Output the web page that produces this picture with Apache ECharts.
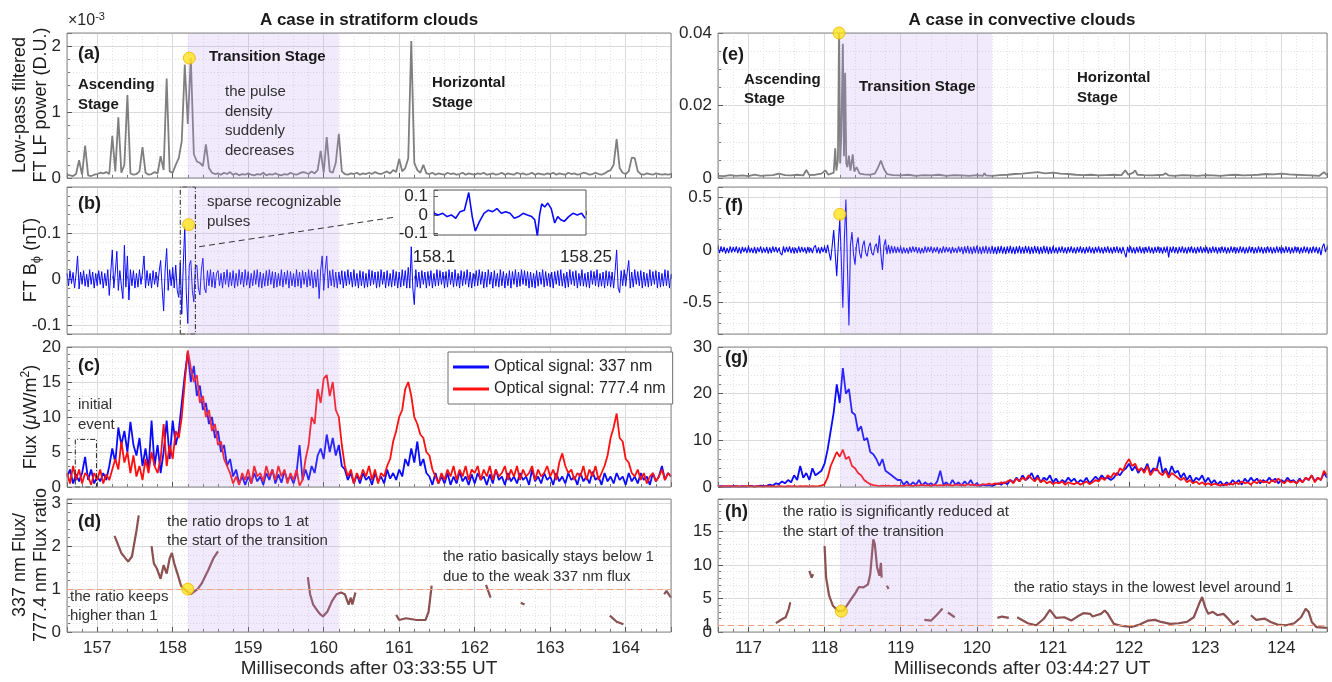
<!DOCTYPE html>
<html>
<head>
<meta charset="utf-8">
<title>Stratiform vs convective case</title>
<script src="https://cdn.jsdelivr.net/npm/echarts@6/dist/echarts.min.js"></script>
<style>
  html, body { margin: 0; padding: 0; background: #fff; }
  #chart { width: 1332px; height: 682px; }
</style>
</head>
<body>
<div id="chart"></div>
<script>
// uniformly sampled traces start here (ms); flux/power step DT, B_phi step DT_B
const T0_L = 156.6, T0_R = 116.6, DT = 0.04, DT_B = 0.02;
const TRANS_L = [158.2, 160.2], TRANS_R = [118.2, 120.2];
const NAME_337 = 'Optical signal: 337 nm', NAME_777 = 'Optical signal: 777.4 nm';

// (a) low-pass filtered FT LF power, in 1e-3 D.U.
const lfPowerL = [
  0.05,0.04,0.03,0.06,0.27,0.05,0.49,0.04,0.03,0.05,0.06,0.08,0.07,0.09,0.06,0.64,0.1,0.92,0.08,0.2,
  1.26,0.07,0.05,0.06,0.1,0.47,0.08,0.05,0.06,0.09,0.07,0.33,0.12,1.51,0.1,0.08,0.2,0.3,0.56,1.72,
  0.82,1.82,0.36,0.25,0.23,0.18,0.51,0.15,0.08,0.06,0.07,0.05,0.08,0.06,0.09,0.05,0.07,0.04,0.06,0.05,
  0.07,0.05,0.04,0.06,0.05,0.08,0.04,0.06,0.05,0.07,0.05,0.04,0.06,0.05,0.08,0.06,0.05,0.07,0.09,0.08,
  0.06,0.1,0.07,0.12,0.41,0.08,0.62,0.1,0.08,0.23,0.67,0.1,0.06,0.05,0.07,0.06,0.08,0.05,0.07,0.06,
  0.08,0.06,0.09,0.07,0.06,0.08,0.1,0.07,0.12,0.09,0.29,0.1,0.15,0.3,2.08,0.23,0.12,0.08,0.2,0.07,
  0.06,0.08,0.05,0.07,0.06,0.05,0.08,0.06,0.07,0.05,0.06,0.08,0.05,0.07,0.06,0.05,0.07,0.06,0.08,0.05,
  0.06,0.07,0.05,0.06,0.08,0.05,0.07,0.06,0.05,0.08,0.06,0.07,0.05,0.06,0.08,0.05,0.07,0.06,0.05,0.07,
  0.06,0.08,0.05,0.07,0.06,0.05,0.08,0.06,0.07,0.05,0.06,0.08,0.07,0.05,0.06,0.08,0.06,0.05,0.07,0.1,
  0.12,0.2,0.59,0.15,0.08,0.06,0.1,0.31,0.3,0.1,0.06,0.05,0.07,0.06,0.05,0.07,0.06,0.05,0.06,0.05,0.06
];
// (b) FT B_phi, nT (step DT_B)
const bPhiL = [
  0.012,-0.015,0.018,-0.01,0.014,-0.02,0.01,0.05,-0.022,0.015,-0.012,0.018,-0.016,0.01,-0.018,0.02,-0.012,0.015,-0.02,0.012,
  -0.015,0.018,-0.012,0.016,-0.02,0.012,-0.015,0.02,-0.036,0.015,0.063,-0.02,0.015,0.06,-0.025,0.018,-0.015,-0.043,0.073,-0.018,
  0.05,-0.046,0.02,-0.015,0.018,-0.02,0.012,-0.018,0.02,-0.012,0.015,0.05,-0.02,0.018,-0.015,0.012,-0.02,0.018,-0.012,0.015,
  -0.018,0.015,0.04,-0.02,-0.07,0.02,0.066,-0.025,0.02,-0.015,0.025,-0.02,0.03,-0.025,-0.04,0.035,-0.077,0.03,0.114,-0.03,
  -0.097,0.03,0.04,-0.025,-0.05,0.025,0.03,-0.02,-0.035,0.02,0.045,-0.02,-0.03,0.018,-0.015,0.02,-0.018,0.015,-0.02,0.012,
  0.018,-0.015,0.012,-0.02,0.015,-0.012,0.02,-0.018,0.014,-0.015,0.018,-0.02,0.012,-0.016,0.02,-0.012,0.015,-0.018,0.02,-0.014,
  0.016,-0.02,0.012,-0.015,0.018,-0.012,0.02,-0.018,0.015,-0.02,0.012,-0.016,0.018,-0.015,0.02,-0.012,0.016,-0.02,0.015,-0.018,
  0.012,-0.015,0.02,-0.018,0.015,-0.012,0.018,-0.02,0.016,-0.015,0.012,-0.018,0.02,-0.016,0.015,-0.02,0.018,-0.012,0.015,-0.018,
  0.02,-0.015,0.018,-0.02,0.015,-0.018,0.02,-0.043,0.02,0.05,-0.025,0.02,0.05,-0.02,0.018,-0.015,0.02,-0.018,0.015,-0.02,
  0.015,-0.012,0.018,-0.02,0.016,-0.015,0.02,-0.012,0.015,-0.018,0.02,-0.016,0.012,-0.02,0.018,-0.015,0.016,-0.02,0.012,-0.018,
  0.02,-0.015,0.018,-0.012,0.015,-0.02,0.016,-0.018,0.02,-0.012,0.015,-0.02,0.018,-0.016,0.012,-0.018,0.02,-0.015,0.016,-0.02,
  0.015,-0.018,0.02,-0.015,0.018,-0.02,0.025,-0.02,0.07,-0.02,-0.056,0.02,-0.018,0.015,-0.02,0.018,-0.012,0.015,-0.02,0.016,
  -0.015,0.018,-0.02,0.012,-0.016,0.02,-0.015,0.018,-0.012,0.015,-0.02,0.016,-0.018,0.02,-0.012,0.015,-0.018,0.02,-0.016,0.012,
  -0.02,0.018,-0.015,0.016,-0.012,0.02,-0.018,0.015,-0.02,0.012,-0.016,0.018,-0.015,0.02,-0.012,0.016,-0.02,0.015,-0.018,0.02,
  -0.012,0.015,-0.02,0.018,-0.016,0.012,-0.018,0.02,-0.015,0.016,-0.02,0.012,-0.015,0.018,-0.02,0.016,-0.012,0.02,-0.018,0.015,
  -0.016,0.02,-0.012,0.018,-0.015,0.016,-0.02,0.015,-0.018,0.012,-0.02,0.018,-0.016,0.015,-0.012,0.02,-0.018,0.016,-0.015,0.012,
  -0.018,0.015,-0.02,0.016,-0.012,0.018,-0.015,0.02,-0.016,0.012,-0.02,0.015,-0.018,0.02,-0.012,0.016,-0.015,0.018,-0.02,0.012,
  -0.015,0.02,-0.016,0.012,-0.018,0.015,-0.02,0.018,-0.012,0.016,-0.015,0.02,-0.018,0.012,-0.016,0.015,-0.02,0.018,-0.015,0.016,
  -0.018,0.015,-0.02,0.018,0.063,-0.02,-0.03,0.018,-0.015,0.02,-0.016,0.015,0.04,-0.02,0.015,-0.018,0.02,-0.012,0.016,-0.015,
  0.018,-0.02,0.015,-0.016,0.012,-0.018,0.02,-0.015,0.016,-0.012,0.018,-0.02,0.015,-0.018,0.012,-0.016,0.02,-0.015,0.018,-0.02,
  0.01
];
// (b) inset, [ms, nT]
const insetB = [
  [158.1,0.009],[158.1043,0],[158.1086,0.009],[158.1129,-0.009],[158.1171,0],[158.1214,-0.018],[158.1257,0.018],
  [158.13,0.026],[158.1343,0.123],[158.1377,-0.009],[158.1407,-0.088],[158.145,-0.035],[158.1493,0.009],[158.1536,0.026],
  [158.1579,0.018],[158.1621,0.035],[158.1664,0.009],[158.1707,0.018],[158.175,0.009],[158.1793,-0.018],[158.1836,-0.009],
  [158.1879,0.009],[158.1921,0],[158.1964,-0.009],[158.1994,-0.026],[158.202,-0.114],[158.2042,0],[158.2063,0.061],
  [158.2093,0.044],[158.2123,0.065],[158.2157,0.035],[158.2191,-0.044],[158.2221,-0.009],[158.2251,-0.026],[158.2286,-0.035],
  [158.2329,-0.009],[158.2371,0.009],[158.2414,0],[158.2457,0.009],[158.2491,-0.018]
];
// (c) optical flux, uW/m^2
const flux337L = [
  1.5,2.5,0.5,1.8,0.8,2,4.3,1,2.5,0.5,1.5,0.8,2,1,3,5.5,3.5,8.5,6,8,
  5,9.3,6,4.5,7,3,5.5,2.5,9.5,3,6,2,5,9.5,4,9.5,6,8,12,16,
  19.3,15,17.3,13,14.5,11,12,9,10,7,8,5,6,3,4,1.5,2.5,0.5,1.5,0.3,
  1.5,0.5,2,0.8,1.5,0.3,2,1,2.5,0.5,1.8,0.6,2.2,1,1.5,0.5,2,6,1,2.5,
  1,3,2,4.5,5.5,4,7.5,5,7,4.5,6,3,2.5,1,2,0.5,1.8,0.5,2,1,
  1.5,0.3,2,0.8,1.5,0.5,2.5,1.2,2,1,2.5,1.5,4,3,5.5,3.5,6.5,3,4,2,
  1.5,0.3,2,0.5,1.5,0.5,2,0.3,1.5,0.5,2.2,0.8,1.5,0.3,1.8,0.5,2,1,1.5,0.3,
  1.8,0.5,2.5,1,1.5,0.3,2,0.8,1.5,0.5,2,1,1.5,0.3,2.5,0.8,1.5,0.5,2,1,
  1.5,0.3,2,0.8,1.5,0.5,2,1,1.5,0.3,2,0.8,1.5,0.5,2.2,1,1.5,0.3,2,0.8,
  1.5,0.5,2,1,1.5,0.3,2,0.8,1.5,0.5,2,1,1.5,0.3,2,0.8,1.5,3,1,2,1.5
];
const flux777L = [
  2,0.5,3,1,2.5,0.5,2,1.5,0.3,2,1,2.5,0.5,1.8,1,2.5,4,2.5,6.5,3.5,
  5,2,4.5,1.5,3,1,4,2,5,3,2,4,9,3,6,4,8,7,10,15,
  19.5,17,15,16,12,13,10,11,8,9,6,6.5,4,3,2,0.5,1.5,0.3,2,1,
  2.5,0.5,3,1.5,2,0.8,3,1.5,2.5,1,3,1.5,2.5,0.5,2,1,2.5,0.2,1,4,
  6,10,9,14,12,15.5,16,13,15,11,10,6,3,1.5,2.5,0.5,2,1,2.5,1.5,
  3,1,2.5,0.5,2,1.5,3,4,6.5,8,10,11,14,15,13,10,9,7.5,7,5,
  4.5,2.5,1.5,0.5,2,1,2.5,1.5,3,1,2.5,1.5,3,1,2.5,2,3,1,2.5,1.5,
  3,1,2.5,1.5,2,3,1,2.5,1.5,3,1,2.5,1.5,2,3,1,2.5,1.5,2,3,
  1.5,2.5,1,3.5,4.8,3,2,2.5,1,2,1.5,3,1,2.5,1.5,3,1,2,3,4.5,
  7,8.5,10.5,7,6.5,4,3.5,2,1.5,2.5,1,2,0.5,1.5,2,0.8,1.5,2.5,1,2,1.5
];
// (d) 337/777.4 flux ratio, segments of [ms, ratio]
const ratioL = [
  [[157.23,2.24],[157.32,1.84],[157.41,1.64],[157.46,1.76],[157.52,2.36],[157.55,2.72]],
  [[157.72,2.0],[157.75,1.6],[157.79,1.48],[157.84,1.24],[157.88,1.56],[157.92,1.36],[157.96,1.72],[157.99,1.84],
   [158.02,1.6],[158.07,1.32],[158.11,1.08],[158.18,0.96],[158.24,0.88],[158.33,1.0],[158.38,1.12],[158.47,1.44],
   [158.54,1.72],[158.6,1.88]],
  [[159.79,1.28],[159.82,0.88],[159.86,0.64],[159.94,0.44],[159.99,0.36],[160.05,0.48],[160.11,0.72],[160.17,0.88],
   [160.23,0.92],[160.28,0.88],[160.33,0.64],[160.36,0.8],[160.38,0.64],[160.42,0.92]],
  [[160.96,0.4],[161.0,0.28],[161.09,0.32],[161.23,0.28],[161.35,0.28],[161.39,0.48],[161.43,1.08]],
  [[162.15,1.1],[162.21,0.8]],
  [[162.61,0.68],[162.66,0.64]],
  [[163.79,0.38],[163.88,0.24],[163.97,0.18]],
  [[164.51,0.88],[164.54,0.96],[164.6,0.8]]
];

// (e) low-pass filtered FT LF power, [ms, D.U.]
const lfPowerR = [
  [116.6,0.0006],[116.68,0.0005],[116.76,0.0008],[116.84,0.0006],[116.92,0.0007],[117.0,0.0005],[117.08,0.0009],
  [117.16,0.0006],[117.24,0.0007],[117.32,0.0008],[117.4,0.0012],[117.48,0.0008],[117.56,0.0007],[117.64,0.0009],
  [117.72,0.0007],[117.76,0.0022],[117.8,0.0008],[117.88,0.0009],[117.96,0.0012],[118.01,0.0021],[118.05,0.0009],
  [118.12,0.0015],[118.14,0.0082],[118.155,0.002],[118.175,0.005],[118.19,0.0402],[118.205,0.004],[118.22,0.012],
  [118.24,0.037],[118.255,0.006],[118.27,0.029],[118.285,0.004],[118.3,0.003],[118.32,0.0062],[118.34,0.002],
  [118.37,0.0065],[118.39,0.0018],[118.42,0.003],[118.46,0.0012],[118.52,0.001],[118.6,0.0009],[118.66,0.0012],
  [118.7,0.0028],[118.74,0.0048],[118.78,0.0025],[118.82,0.0011],[118.9,0.0008],[119.0,0.0007],[119.1,0.0009],
  [119.2,0.0006],[119.3,0.0008],[119.4,0.0007],[119.5,0.0009],[119.6,0.0006],[119.7,0.0008],[119.8,0.0007],
  [119.9,0.0006],[120.0,0.0008],[120.08,0.0006],[120.1,0.0013],[120.12,0.0007],[120.2,0.0006],[120.3,0.0008],
  [120.4,0.0009],[120.5,0.0011],[120.6,0.0012],[120.7,0.0014],[120.8,0.0016],[120.9,0.0013],[121.0,0.0015],
  [121.1,0.0012],[121.2,0.0011],[121.3,0.0009],[121.4,0.0008],[121.5,0.0009],[121.6,0.0007],[121.7,0.0008],
  [121.8,0.0009],[121.9,0.0008],[121.95,0.0021],[121.99,0.0009],[122.05,0.0014],[122.08,0.0021],[122.11,0.0009],
  [122.2,0.0008],[122.3,0.0007],[122.45,0.0009],[122.48,0.0013],[122.52,0.0007],[122.6,0.0006],[122.7,0.0008],
  [122.8,0.0007],[122.9,0.0006],[123.0,0.0008],[123.1,0.0007],[123.2,0.0006],[123.3,0.0008],[123.4,0.0009],
  [123.5,0.0007],[123.6,0.0008],[123.7,0.0009],[123.8,0.0011],[123.9,0.001],[124.0,0.0012],[124.1,0.001],
  [124.2,0.0009],[124.3,0.0008],[124.4,0.0007],[124.5,0.0006],[124.56,0.0016],[124.6,0.0008]
];
// (f) FT B_phi, nT (step DT_B)
const bPhiR = [
  0.025,-0.03,0.035,-0.02,0.03,-0.035,0.02,-0.03,0.035,-0.025,0.03,-0.02,0.035,-0.03,0.025,-0.035,0.03,-0.02,0.025,-0.03,
  0.035,-0.025,0.02,-0.03,0.03,-0.035,0.025,-0.02,0.035,-0.03,0.02,-0.025,0.03,-0.035,0.025,-0.03,0.035,-0.02,0.03,-0.025,
  0.02,-0.03,-0.05,0.035,-0.025,0.03,-0.02,0.035,-0.03,0.025,-0.035,0.02,-0.03,0.035,-0.025,0.03,-0.02,0.025,-0.035,0.03,
  -0.025,0.02,-0.03,0.025,0.045,-0.03,0.025,-0.035,0.03,-0.02,0.03,-0.03,0.05,-0.03,-0.1,0.04,0.19,-0.04,-0.25,0.05,
  0.3,-0.1,-0.55,0.1,0.48,-0.15,-0.72,0.05,0.17,-0.04,-0.14,0.05,0.12,-0.03,-0.08,0.04,0.09,-0.03,-0.06,0.03,
  0.07,-0.03,-0.05,0.03,0.06,-0.03,0.14,-0.04,-0.19,0.04,0.1,-0.04,0.05,-0.035,0.04,-0.03,0.035,-0.03,0.03,-0.025,
  0.03,-0.035,0.025,-0.03,0.02,-0.035,0.03,-0.025,0.035,-0.02,0.03,-0.03,0.025,-0.035,0.02,-0.03,0.035,-0.025,0.03,-0.02,
  0.035,-0.03,0.025,-0.02,0.03,-0.035,0.02,-0.03,0.035,-0.025,0.03,-0.02,0.025,-0.035,0.03,-0.025,0.02,-0.03,0.035,-0.02,
  0.03,-0.04,0.035,-0.03,0.04,-0.035,0.03,-0.04,0.035,-0.03,0.04,-0.035,0.03,-0.04,0.035,-0.03,0.04,-0.035,0.03,-0.035,
  0.04,-0.035,0.03,-0.04,0.035,-0.03,0.04,-0.035,0.03,-0.04,0.035,-0.03,0.04,-0.035,0.03,-0.04,0.035,-0.03,0.04,-0.035,
  0.03,-0.035,0.04,-0.03,0.035,-0.04,0.03,-0.035,0.04,-0.03,0.035,-0.04,0.03,-0.035,0.04,-0.03,0.035,-0.04,0.03,-0.035,
  0.035,-0.03,0.025,-0.035,0.03,-0.025,0.035,-0.03,0.025,-0.035,0.03,-0.025,0.035,-0.03,0.025,-0.035,0.03,-0.025,0.035,-0.03,
  0.025,-0.035,0.03,-0.025,0.035,-0.03,0.025,-0.035,0.03,-0.025,0.035,-0.03,0.025,-0.035,0.03,-0.025,0.035,-0.03,0.025,-0.035,
  0.03,-0.025,0.035,-0.03,0.025,-0.035,0.03,-0.025,-0.07,0.03,-0.025,0.035,-0.03,0.025,-0.035,0.03,-0.025,0.035,-0.03,0.025,
  -0.035,0.03,-0.025,0.035,-0.03,0.025,-0.035,0.03,-0.025,0.035,-0.03,0.025,-0.035,0.03,-0.025,0.035,-0.07,0.03,-0.025,0.035,
  -0.03,0.025,-0.035,0.03,-0.025,0.035,-0.03,0.025,-0.035,0.03,-0.025,0.035,-0.03,0.025,-0.035,0.03,-0.025,0.035,-0.03,0.025,
  -0.025,0.03,-0.035,0.025,-0.03,0.035,-0.025,0.03,-0.035,0.025,-0.03,0.035,-0.025,0.03,-0.035,0.025,-0.03,0.035,-0.025,0.03,
  -0.035,0.025,-0.03,0.035,-0.025,0.03,-0.035,0.025,-0.03,0.035,-0.025,0.03,-0.035,0.025,-0.03,0.035,-0.025,0.03,-0.035,0.025,
  -0.03,0.035,-0.025,0.03,-0.035,0.025,-0.03,0.035,-0.025,0.03,-0.035,0.025,-0.03,0.035,-0.025,0.03,-0.035,0.025,-0.03,0.035,
  -0.025,0.03,-0.035,0.025,-0.03,0.035,-0.025,0.03,-0.035,0.025,-0.03,0.035,-0.025,0.03,-0.035,0.025,-0.05,0.03,0.06,-0.02,
  0.03
];
// (g) optical flux, uW/m^2
const flux337R = [
  0.1,0.2,0.1,0.15,0.1,0.2,0.15,0.1,0.2,0.1,0.15,0.25,0.1,0.2,0.3,0.2,0.25,0.5,0.3,0.8,
  0.6,1.2,0.8,1.5,1,2.5,1.5,4.5,2,3,1.5,4,2.5,3,3.5,5,8,12,16,22,
  18,25.5,20,21,16,15.5,12,13,10,10.5,7.5,7,6,4.5,6,3.5,3,2.5,2,1.5,
  1.5,0.5,1.2,0.3,1,0.5,1.5,0.3,1,0.5,0.8,0.3,1.2,3.5,0.5,1,0.3,1.5,0.5,1,
  0.3,1.2,0.5,1.5,0.3,0.8,0.2,0.5,0.3,0.4,0.2,0.5,0.8,0.5,1,0.6,1.5,1,2,1.2,
  2.5,1.5,2,3,1.5,2.5,1,2,1.5,2.5,1,1.8,0.8,1.5,1,2,1.2,1.8,0.8,1.5,
  1,2,0.8,1.5,2.2,1.5,2.5,1.8,2,1.5,2,3,2.5,3.5,4,5,3.5,4.5,3,4,
  3.5,5,3,4,3.5,6.5,3,4,2.5,4.5,3,3.5,2,3,1.5,2.5,1,2,1.5,2.5,
  1,2,0.8,1.5,0.5,1.2,0.3,1,0.5,1.5,0.8,1.5,0.5,1.8,1,2,1.2,1.8,0.8,1.5,
  1,2,1.2,1.8,0.8,1.5,1,2,1.2,1.5,0.8,1.8,1,2,1.5,2.5,1.2,2,1.5,3,2
];
const flux777R = [
  0.2,0.1,0.2,0.15,0.2,0.1,0.2,0.15,0.1,0.2,0.15,0.2,0.1,0.2,0.15,0.1,0.2,0.15,0.2,0.1,
  0.2,0.15,0.1,0.2,0.15,0.2,0.1,0.2,0.15,0.2,0.1,0.2,0.15,0.2,0.3,0.6,2,4.5,6,7.5,
  6.5,8,6,6.5,4.5,4,3,2.5,1.5,1,0.6,0.4,0.3,0.2,0.3,0.2,0.3,0.2,0.3,0.2,
  0.3,0.2,0.4,0.3,0.2,0.4,0.3,0.5,0.3,0.4,0.2,0.5,0.3,0.4,0.3,0.5,0.4,0.3,0.5,0.4,
  0.5,0.3,0.6,0.4,0.5,0.3,0.4,0.6,0.5,0.7,0.5,0.8,0.6,1,0.8,1.2,1.5,0.8,1.8,1.2,
  2,1.5,2.5,1.8,1.2,2,1,1.5,0.8,1.2,0.6,1,0.8,1.2,0.5,1,0.8,0.6,1,0.5,
  0.8,1.2,0.6,1,1.5,1.2,2,1.5,2.5,2,3,2.5,4,3.5,5,6,4.5,5,3.5,4,
  3,4.5,2.5,3.5,4,3,2.5,3.5,2,3,2.5,2,1.5,2,1,1.5,0.8,1.2,0.6,1,
  0.5,0.8,0.4,0.7,0.5,0.3,0.6,0.4,0.8,0.5,1,0.6,1.2,0.8,1,0.5,1.2,0.8,1.5,1,
  1.2,0.8,1.5,1,1.8,1.2,0.8,1.5,1,1.2,0.8,1.5,1,2,1.5,2.5,1,2,1.5,3.5,2.5
];
// (h) flux ratio segments
const ratioR = [
  [[117.36,1.33],[117.45,1.97],[117.49,2.2],[117.53,3.45],[117.55,4.43]],
  [[117.8,9.1],[117.83,8.1],[117.85,8.6]],
  [[118.0,12.8],[118.02,8.1],[118.06,5.4],[118.11,3.9],[118.18,3.1],[118.25,3.2],[118.32,4.4],[118.41,5.9],
   [118.45,6.7],[118.51,6.65],[118.57,7.1],[118.6,8.6],[118.64,13.8],[118.66,13.1],[118.69,9.6],[118.72,8.4],
   [118.74,10.3],[118.75,8.1]],
  [[118.82,6.9],[118.84,6.4]],
  [[119.31,1.8],[119.4,1.7],[119.47,2.5],[119.55,3.5]],
  [[119.62,2.9],[119.71,2.2]],
  [[120.27,2.1],[120.33,2.3],[120.42,2.1]],
  [[120.53,2.2],[120.67,1.3],[120.78,1.0],[120.88,1.97],[120.96,3.3],[121.04,2.1],[121.15,2.2],[121.24,1.7],
   [121.32,2.3],[121.4,2.8],[121.49,2.7],[121.52,2.3],[121.57,2.5],[121.63,2.7],[121.68,3.2],[121.72,2.7],
   [121.8,1.2],[121.91,0.9],[122.03,0.74],[122.14,1.1],[122.25,1.7],[122.34,1.8],[122.42,1.5],[122.54,1.2],
   [122.65,1.3],[122.76,1.5],[122.85,2.2],[122.92,4.2],[122.96,5.2],[123.0,3.7],[123.04,2.7],[123.1,3.0],
   [123.16,2.5],[123.24,2.7],[123.3,2.0],[123.37,1.1],[123.44,1.7]],
  [[123.6,2.5],[123.67,1.8],[123.78,2.0],[123.86,1.5],[123.95,1.1],[124.06,1.0],[124.17,1.3],[124.26,2.2],
   [124.32,3.45],[124.36,2.96],[124.4,1.5],[124.46,0.74],[124.6,0.6]]
];

// yellow onset markers, [ms, value] for panels a, b, d, e, f, h
const dotA = [158.22, 1.82], dotB = [158.21, 0.118], dotD = [158.2, 1.0];
const dotE = [118.19, 0.04], dotF = [118.2, 0.34], dotH = [118.22, 3.1];

const FONT = "'Liberation Sans', Arial, Helvetica, sans-serif";
const INK = '#262626';
const SHADE = 'rgba(185,150,240,0.2)';
const BLUE = '#0a0aff', RED = '#ff1010', GRAY = '#7f7f7f', BROWN = '#8b5050';

const cols = [{ left: 67, width: 604, min: 156.6, max: 164.6 }, { left: 718, width: 609, min: 116.6, max: 124.6 }];
const rows = [{ top: 33, height: 145 }, { top: 187, height: 147 }, { top: 347, height: 140 }, { top: 499, height: 133 }];
const near = (v, step) => Math.abs(v / step - Math.round(v / step)) < 1e-6;
const yCfg = [
  { min: 0, max: 2.2, interval: 1, minor: 0.2, show: v => near(v, 1) && v < 2.1 },
  { min: -0.12, max: 0.2, splitNumber: 3, minor: 0.02, show: v => near(v, 0.1) && Math.abs(v) < 0.15 },
  { min: 0, max: 20, interval: 5, minor: 1 },
  { min: 0, max: 3.1, interval: 1, minor: 0.2, show: v => near(v, 1) && v < 3.05 },
  { min: 0, max: 0.04, interval: 0.02, minor: 0.005, fmt: v => (v === 0 ? '0' : v.toFixed(2)) },
  { min: -0.8, max: 0.6, splitNumber: 3, minor: 0.1, show: v => near(v, 0.5) },
  { min: 0, max: 30, interval: 10, minor: 2 },
  { min: 0, max: 19.8, interval: 5, minor: 1, show: v => v < 19, minorLabel: 1 }
];

const toPairs = (arr, t0, step) => arr.map((v, i) => [+(t0 + i * step).toFixed(2), v]);
const joinSegs = segs => segs.flatMap(s => s.concat([[s[s.length - 1][0] + 0.001, null]]));

const grids = [], xMajor = [], xMinor = [], yMajor = [], yMinor = [];
for (let c = 0; c < 2; c++) {
  for (let r = 0; r < 4; r++) {
    const p = c * 4 + r, col = cols[c], row = rows[r], yc = yCfg[p];
    grids.push({ left: col.left, width: col.width, top: row.top, height: row.height, show: true,
      outerBoundsMode: 'none', borderColor: '#8a8a8a', borderWidth: 1, backgroundColor: 'transparent', z: 4 });
    xMajor.push({ type: 'value', gridIndex: p, position: 'bottom', min: col.min, max: col.max, splitNumber: 8, z: 1,
      axisLine: { show: false },
      axisTick: { inside: true, length: 5, lineStyle: { color: '#555' } },
      axisLabel: { show: r === 3, margin: 8, fontSize: 17, fontFamily: FONT, color: INK,
        formatter: v => (near(v, 1) ? String(Math.round(v)) : '') },
      splitLine: { lineStyle: { color: '#dadada', width: 1 } } });
    xMinor.push({ type: 'value', gridIndex: p, position: 'bottom', min: col.min, max: col.max, interval: 0.2, z: 0,
      axisLine: { show: false }, axisLabel: { show: false },
      axisTick: { inside: true, length: 3, lineStyle: { color: '#777' } },
      splitLine: { lineStyle: { color: '#e2e2e2', width: 1, type: [1, 2] } } });
    const fmt = yc.fmt || (v => (!yc.show || yc.show(v) ? String(+v.toFixed(4)) : ''));
    const ym = { type: 'value', gridIndex: p, position: 'left', min: yc.min, max: yc.max, z: 1,
      axisLine: { show: false },
      axisTick: { inside: true, length: 5, lineStyle: { color: '#555' } },
      axisLabel: { margin: 6, fontSize: 17, fontFamily: FONT, color: INK, formatter: fmt },
      splitLine: { lineStyle: { color: '#dadada', width: 1 } } };
    if (yc.interval) ym.interval = yc.interval; else ym.splitNumber = yc.splitNumber;
    yMajor.push(ym);
    // minor grid axis; in (h) it also carries the extra "1" tick label
    const extra = yc.minorLabel;
    yMinor.push({ type: 'value', gridIndex: p, position: 'left', offset: 0, min: yc.min, max: yc.max, interval: yc.minor, z: 0,
      axisLine: { show: false },
      axisLabel: extra !== undefined ? { margin: 6, fontSize: 17, fontFamily: FONT, color: INK,
        formatter: v => (Math.abs(v - extra) < 1e-9 ? String(extra) : '') } : { show: false },
      axisTick: { inside: true, length: 3, lineStyle: { color: '#777' } },
      splitLine: { lineStyle: { color: '#e2e2e2', width: 1, type: [1, 2] } } });
  }
}
// inset of panel (b)
grids.push({ left: 434, top: 190, width: 152, height: 45, show: true, outerBoundsMode: 'none',
  borderColor: '#555', borderWidth: 1, backgroundColor: '#fff', z: 6 });
const insetX = { type: 'value', gridIndex: 8, min: 158.1, max: 158.25, interval: 0.15, z: 7,
  axisLine: { show: false }, splitLine: { show: false },
  axisTick: { inside: true, length: 4, lineStyle: { color: '#555' } },
  axisLabel: { margin: 14, fontSize: 17, fontFamily: FONT, color: INK } };
const insetY = { type: 'value', gridIndex: 8, min: -0.11, max: 0.137, splitNumber: 2, z: 7,
  axisLine: { show: false }, splitLine: { show: false },
  axisTick: { inside: true, length: 4, lineStyle: { color: '#555' } },
  axisLabel: { margin: 6, fontSize: 17, fontFamily: FONT, color: INK,
    formatter: v => (near(v, 0.1) ? String(+v.toFixed(2)) : '') } };

const line = (p, data, color, width, name) => ({ type: 'line', name, xAxisIndex: p, yAxisIndex: p, data,
  symbol: 'none', silent: true, animation: false, lineStyle: { color, width }, itemStyle: { color }, z: 2 });
const dot = (p, pt) => ({ type: 'scatter', xAxisIndex: p, yAxisIndex: p, data: [pt], symbolSize: 12, z: 10,
  silent: true, itemStyle: { color: '#ffe41a', borderColor: '#f0b400', borderWidth: 1 } });
const shadeArea = tr => [{ xAxis: tr[0], itemStyle: { color: SHADE } }, { xAxis: tr[1] }];
const dashBox = (x0, x1, y0, y1) => [
  { xAxis: x0, yAxis: y0, itemStyle: { color: 'rgba(0,0,0,0)', borderColor: '#222', borderWidth: 1, borderType: [5, 2, 1, 2] } },
  { xAxis: x1, yAxis: y1 }];
const deco = (p, areas, lines) => {
  const s = { type: 'line', xAxisIndex: p, yAxisIndex: p, data: [], silent: true, z: 3,
    markArea: { silent: true, z: 3, data: areas } };
  if (lines) s.markLine = lines;
  return s;
};
const ratioOne = { silent: true, symbol: 'none', z: 5, label: { show: false },
  lineStyle: { color: '#f0a07c', type: [6, 4], width: 1.2 }, data: [{ yAxis: 1 }] };
const arrowB = { silent: true, symbol: ['none', 'arrow'], symbolSize: [0, 9], z: 5, label: { show: false },
  lineStyle: { color: '#333', type: [6, 4], width: 1 },
  data: [[{ coord: [158.35, 0.07] }, { coord: [160.97, 0.135] }]] };

const series = [
  line(0, toPairs(lfPowerL, T0_L, DT), GRAY, 1.8),
  line(1, toPairs(bPhiL, T0_L, DT_B), BLUE, 1),
  line(2, toPairs(flux337L, T0_L, DT), BLUE, 1.8, NAME_337),
  line(2, toPairs(flux777L, T0_L, DT), RED, 1.8, NAME_777),
  line(3, joinSegs(ratioL), BROWN, 2.2),
  line(4, lfPowerR, GRAY, 1.8),
  line(5, toPairs(bPhiR, T0_R, DT_B), BLUE, 1.1),
  line(6, toPairs(flux337R, T0_R, DT), BLUE, 1.8, NAME_337),
  line(6, toPairs(flux777R, T0_R, DT), RED, 1.8, NAME_777),
  line(7, joinSegs(ratioR), BROWN, 2.2),
  Object.assign(line(8, insetB, BLUE, 1.6), { xAxisIndex: 16, yAxisIndex: 16, z: 7 }),
  deco(0, [shadeArea(TRANS_L)]),
  deco(1, [shadeArea(TRANS_L), dashBox(158.1, 158.3, -0.12, 0.2)], arrowB),
  deco(2, [shadeArea(TRANS_L), dashBox(156.71, 156.99, 0, 6.8)]),
  deco(3, [shadeArea(TRANS_L)], ratioOne),
  deco(4, [shadeArea(TRANS_R)]),
  deco(5, [shadeArea(TRANS_R)]),
  deco(6, [shadeArea(TRANS_R)]),
  deco(7, [shadeArea(TRANS_R)], ratioOne),
  dot(0, dotA), dot(1, dotB), dot(3, dotD), dot(4, dotE), dot(5, dotF), dot(7, dotH)
];

const txt = (x, y, text, o) => ({ type: 'text', x, y, z: 30, silent: true,
  style: Object.assign({ text, fontFamily: FONT, fontSize: 15, fill: '#303030',
    align: 'left', textAlign: 'left', verticalAlign: 'middle', textVerticalAlign: 'middle' }, o || {}) });
const bold = (x, y, text, size, o) => txt(x, y, text, Object.assign({ fontWeight: 'bold', fontSize: size || 15, fill: '#1a1a1a' }, o || {}));
const block = (x, y, text, lh, o) => txt(x, y, text, Object.assign({ lineHeight: lh, verticalAlign: 'top', textVerticalAlign: 'top' }, o || {}));
const center = { align: 'center', textAlign: 'center' };
const yTitle = (x, y, text, rich) => ({ type: 'text', x, y, z: 30, silent: true, rotation: Math.PI / 2,
  style: { text, rich, fontFamily: FONT, fontSize: 18, lineHeight: 21, fill: '#1a1a1a',
    align: 'center', textAlign: 'center', verticalAlign: 'middle', textVerticalAlign: 'middle' } });

const graphic = [
  bold(369, 20, 'A case in stratiform clouds', 17, center),
  bold(1022, 20, 'A case in convective clouds', 17, center),
  txt(68, 21, '×10{sup|-3}', { fontSize: 16, fill: INK, rich: { sup: { fontSize: 11, fontFamily: FONT, padding: [0, 0, 9, 0] } } }),
  bold(78, 54, '(a)', 18), bold(78, 204, '(b)', 18), bold(78, 366, '(c)', 18), bold(78, 522, '(d)', 18),
  bold(722, 55, '(e)', 18), bold(725, 206, '(f)', 18), bold(725, 358, '(g)', 18), bold(725, 512, '(h)', 18),
  bold(209, 57, 'Transition Stage'),
  block(78, 75, 'Ascending\nStage', 20, { fontWeight: 'bold', fill: '#1a1a1a' }),
  block(432, 73, 'Horizontal\nStage', 20, { fontWeight: 'bold', fill: '#1a1a1a' }),
  block(225, 82, 'the pulse\ndensity\nsuddenly\ndecreases', 19.7),
  block(744, 70, 'Ascending\nStage', 19, { fontWeight: 'bold', fill: '#1a1a1a' }),
  bold(859, 87, 'Transition Stage'),
  block(1077, 68, 'Horizontal\nStage', 20, { fontWeight: 'bold', fill: '#1a1a1a' }),
  block(207, 192, 'sparse recognizable\npulses', 20),
  block(78, 395, 'initial\nevent', 20),
  block(167, 512, 'the ratio drops to 1 at\nthe start of the transition', 19),
  block(443, 547, 'the ratio basically stays below 1\ndue to the weak 337 nm flux', 20),
  block(70, 587, 'the ratio keeps\nhigher than 1', 19),
  block(783, 502, 'the ratio is significantly reduced at\nthe start of the transition', 20),
  txt(1014, 588, 'the ratio stays in the lowest level around 1'),
  txt(369, 669, 'Milliseconds after 03:33:55 UT', Object.assign({ fontSize: 19, fill: INK }, center)),
  txt(1022, 669, 'Milliseconds after 03:44:27 UT', Object.assign({ fontSize: 19, fill: INK }, center)),
  yTitle(31, 105, 'Low-pass filtered\nFT LF power (D.U.)'),
  yTitle(31, 260, 'FT B{sub|ϕ} (nT)', { sub: { fontSize: 13, fontFamily: FONT, padding: [11, 0, 0, 0] } }),
  yTitle(31, 417, 'Flux ({it|μ}W/m{sup|2})', { it: { fontStyle: 'italic', fontSize: 18, fontFamily: FONT },
    sup: { fontSize: 12, fontFamily: FONT, padding: [0, 0, 10, 0] } }),
  yTitle(31, 565, '337 nm Flux/\n777.4 nm Flux ratio')
];

const chart = echarts.init(document.getElementById('chart'), null, { renderer: 'canvas' });
chart.setOption({
  animation: false,
  backgroundColor: '#fff',
  textStyle: { fontFamily: FONT },
  grid: grids,
  xAxis: xMajor.concat(xMinor, [insetX]),
  yAxis: yMajor.concat(yMinor, [insetY]),
  legend: {
    data: [NAME_337, NAME_777], left: 448, top: 352, orient: 'vertical', itemGap: 4,
    icon: 'rect', itemWidth: 36, itemHeight: 3, padding: [6, 7, 6, 5], backgroundColor: '#fff',
    borderColor: '#6e6e6e', borderWidth: 1, borderRadius: 0, selectedMode: false, z: 8,
    textStyle: { fontFamily: FONT, fontSize: 16, color: INK, lineHeight: 18 }
  },
  series,
  graphic
});
</script>
</body>
</html>
